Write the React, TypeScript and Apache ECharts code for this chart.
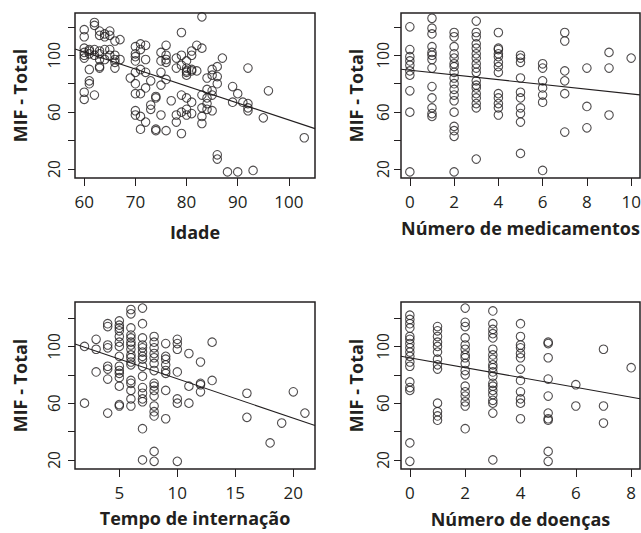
import React, { useEffect, useRef } from "react";
import * as echarts from "echarts";

// ---------- data ----------
const yTicks = [20, 40, 60, 80, 100, 120];
const yTickLabels = [20, 60, 100];

// Panel 1: Idade
const idadeTicks = [60, 70, 80, 90, 100];
const idadeAnos = [60, 61, 62, 63, 64, 65, 66, 67, 69, 70, 71, 72, 73, 74, 75, 76, 77, 78, 79, 80, 81, 82, 83, 84, 85, 86, 87, 88, 89, 90, 91, 92, 93, 95, 96, 103];
const idadeMIF = [
  [118, 113, 105, 102, 100, 98, 74, 69],
  [104, 103, 101, 90, 82, 80],
  [123, 121, 104, 100, 72],
  [117, 114, 103, 101, 97, 92, 91],
  [115, 113, 104, 97],
  [117, 114, 104, 100],
  [110, 100, 97, 95, 91],
  [111, 97],
  [84],
  [106, 101, 99, 96, 88, 80, 73, 61, 58],
  [108, 104, 90, 73, 57, 48],
  [107, 97, 88, 77, 53],
  [82, 65, 62],
  [71, 70, 48, 47],
  [102, 96, 88, 79, 58],
  [107, 100, 97, 95, 83, 47],
  [68],
  [98, 91, 58, 53],
  [116, 100, 93, 72, 60, 45],
  [96, 91, 89, 88, 86, 70, 62, 58],
  [103, 100, 90, 89, 67, 59],
  [107, 89],
  [127, 105, 72, 63, 57, 52],
  [84, 76, 70, 66, 62],
  [90, 86, 75, 72, 61],
  [92, 85, 80, 30, 27],
  [98],
  [18],
  [78, 67],
  [73, 18],
  [67],
  [91, 66, 63, 61],
  [19],
  [56],
  [75],
  [42],
];
const fitIdade = [173.9, -1.194];

// Panel 2: Número de medicamentos
const medTicks = [0, 2, 4, 6, 8, 10];
const medN = [0, 1, 2, 3, 4, 5, 6, 7, 8, 9, 10];
const medMIF = [
  [120, 104, 99, 96, 93, 89, 86, 75, 60, 18],
  [126, 119, 115, 106, 102, 100, 97, 91, 78, 70, 63, 59, 57],
  [116, 113, 106, 101, 98, 94, 92, 88, 84, 80, 76, 72, 68, 60, 50, 47, 43, 18],
  [124, 116, 113, 108, 105, 101, 98, 94, 91, 88, 82, 79, 77, 73, 70, 66, 63, 27],
  [116, 105, 104, 101, 99, 95, 92, 88, 73, 70, 66, 63, 58],
  [100, 98, 95, 84, 74, 70, 63, 59, 53, 31],
  [94, 91, 82, 77, 72, 67, 19],
  [116, 110, 89, 82, 73, 46],
  [91, 64, 49],
  [102, 91, 58],
  [98],
];
const fitMed = [89.5, -1.667];

// Panel 3: Tempo de internação
const tempoTicks = [5, 10, 15, 20];
const tempoDias = [2, 3, 4, 5, 6, 7, 8, 9, 10, 11, 12, 13, 16, 18, 19, 20, 21];
const tempoMIF = [
  [100, 60],
  [105, 98, 82],
  [116, 114, 101, 99, 86, 84, 77, 53],
  [118, 115, 113, 111, 107, 103, 100, 93, 86, 83, 81, 78, 72, 59, 58],
  [126, 123, 113, 108, 106, 103, 101, 98, 94, 92, 89, 87, 76, 74, 69, 63, 58],
  [127, 116, 106, 101, 99, 96, 93, 91, 86, 79, 71, 67, 63, 61, 42, 20],
  [107, 103, 99, 95, 92, 88, 83, 74, 72, 69, 65, 58, 54, 51, 26, 19],
  [102, 93, 91, 87, 83, 81, 69, 49],
  [105, 102, 98, 82, 63, 60, 19],
  [95, 72, 60],
  [89, 74, 73, 68],
  [103, 76],
  [67, 50],
  [32],
  [46],
  [68],
  [53],
];
const fitTempo = [105.0, -2.779];

// Panel 4: Número de doenças
const doencasTicks = [0, 2, 4, 6, 8];
const doencasN = [0, 1, 2, 3, 4, 5, 6, 7, 8];
const doencasMIF = [
  [122, 119, 116, 113, 107, 105, 102, 99, 96, 93, 89, 86, 75, 71, 69, 32, 19],
  [114, 111, 107, 103, 100, 96, 91, 87, 84, 60, 54, 51, 48],
  [127, 117, 114, 106, 101, 98, 94, 92, 88, 83, 80, 72, 68, 65, 61, 58, 42],
  [125, 116, 112, 109, 106, 98, 94, 91, 87, 85, 82, 79, 74, 72, 69, 66, 62, 60, 53, 20],
  [116, 107, 101, 99, 95, 92, 84, 76, 68, 63, 60, 49],
  [103, 102, 92, 77, 65, 53, 49, 48, 26, 19],
  [73, 58],
  [98, 58, 46],
  [85],
];
const fitDoencas = [92.0, -3.471];

const yName = "MIF - Total";

// ---------- chart ----------
const FONT = '"Open Sans", "Noto Sans", sans-serif';
const INK = "#231f20";

function toPoints(xs: number[], groups: number[][]) {
  const out: number[][] = [];
  xs.forEach((x, i) => groups[i].forEach((y) => out.push([x, y])));
  return out;
}

const panels = [
  {
    grid: { left: 75, top: 13, width: 240, height: 165 },
    xMin: 58.2, xMax: 105.1, yMin: 13.7, yMax: 129.7,
    xTicks: idadeTicks, xName: "Idade", xs: idadeAnos, ys: idadeMIF, fit: fitIdade,
    yLabelMargin: 13, yNameGap: 46, xLabelMargin: 15, xNameGap: 45,
  },
  {
    grid: { left: 401, top: 13, width: 239, height: 165 },
    xMin: -0.4, xMax: 10.4, yMin: 13.7, yMax: 129.7,
    xTicks: medTicks, xName: "Número de medicamentos", xs: medN, ys: medMIF, fit: fitMed,
    yLabelMargin: 10, yNameGap: 36, xLabelMargin: 15, xNameGap: 41,
  },
  {
    grid: { left: 75, top: 302, width: 240, height: 167 },
    xMin: 1.18, xMax: 21.87, yMin: 13.6, yMax: 131.3,
    xTicks: tempoTicks, xName: "Tempo de internação", xs: tempoDias, ys: tempoMIF, fit: fitTempo,
    yLabelMargin: 13, yNameGap: 46, xLabelMargin: 15, xNameGap: 40,
  },
  {
    grid: { left: 401, top: 302, width: 239, height: 167 },
    xMin: -0.32, xMax: 8.32, yMin: 13.6, yMax: 131.3,
    xTicks: doencasTicks, xName: "Número de doenças", xs: doencasN, ys: doencasMIF, fit: fitDoencas,
    yLabelMargin: 10, yNameGap: 36, xLabelMargin: 15, xNameGap: 41,
  },
];

function buildOption() {
  const grid: any[] = [];
  const xAxis: any[] = [];
  const yAxis: any[] = [];
  const series: any[] = [];
  panels.forEach((p, i) => {
    grid.push({
      ...p.grid,
      containLabel: false,
      outerBoundsMode: "none",
      show: true,
      borderColor: INK,
      borderWidth: 1.5,
      backgroundColor: "transparent",
    });
    xAxis.push({
      type: "value",
      gridIndex: i,
      min: p.xMin,
      max: p.xMax,
      splitLine: { show: false },
      axisLine: { show: false, onZero: false },
      axisTick: { show: true, length: 8, customValues: p.xTicks, lineStyle: { color: INK, width: 1 } },
      axisLabel: { customValues: p.xTicks, margin: p.xLabelMargin, fontSize: 17, color: INK, fontFamily: FONT },
      name: p.xName,
      nameLocation: "middle",
      nameGap: p.xNameGap,
      nameTextStyle: { fontSize: 18, fontWeight: "bold", color: INK, fontFamily: FONT },
    });
    yAxis.push({
      type: "value",
      gridIndex: i,
      min: p.yMin,
      max: p.yMax,
      splitLine: { show: false },
      axisLine: { show: false, onZero: false },
      axisTick: { show: true, length: 7, customValues: yTicks, lineStyle: { color: INK, width: 1 } },
      axisLabel: { customValues: yTickLabels, rotate: 90, margin: p.yLabelMargin, fontSize: 15.5, color: INK, fontFamily: FONT },
      name: yName,
      nameLocation: "middle",
      nameGap: p.yNameGap,
      nameTextStyle: { fontSize: 18, fontWeight: "bold", color: INK, fontFamily: FONT },
    });
    series.push({
      type: "scatter",
      xAxisIndex: i,
      yAxisIndex: i,
      symbol: "circle",
      symbolSize: 8.5,
      itemStyle: { color: "rgba(0,0,0,0)", borderColor: INK, borderWidth: 1.1 },
      data: toPoints(p.xs, p.ys),
      silent: true,
    });
    const [b0, b1] = p.fit;
    series.push({
      type: "line",
      xAxisIndex: i,
      yAxisIndex: i,
      showSymbol: false,
      symbol: "none",
      lineStyle: { color: INK, width: 1.1 },
      data: [
        [p.xMin, b0 + b1 * p.xMin],
        [p.xMax, b0 + b1 * p.xMax],
      ],
      silent: true,
    });
  });
  return {
    animation: false,
    backgroundColor: "#ffffff",
    textStyle: { fontFamily: FONT },
    grid,
    xAxis,
    yAxis,
    series,
  };
}

export default function App() {
  const ref = useRef<HTMLDivElement>(null);
  useEffect(() => {
    if (!ref.current) return;
    const chart = echarts.init(ref.current, null, { renderer: "svg" });
    chart.setOption(buildOption() as any);
    return () => chart.dispose();
  }, []);
  return (
    <div
      ref={ref}
      style={{ position: "absolute", left: 0, top: 0, width: 641, height: 533, background: "#fff" }}
    />
  );
}
